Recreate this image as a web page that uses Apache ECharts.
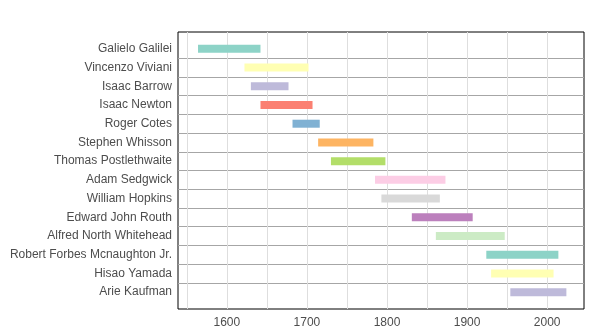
<!DOCTYPE html>
<html>
<head>
<meta charset="utf-8">
<script src="https://cdn.jsdelivr.net/npm/echarts@6/dist/echarts.min.js"></script>
<style>
html, body { margin: 0; padding: 0; background: #fff; }
#main { width: 592px; height: 336px; }
</style>
</head>
<body>
<div id="main"></div>
<script>
// 人名（从上到下）
var names = ['Galielo Galilei', 'Vincenzo Viviani', 'Isaac Barrow', 'Isaac Newton', 'Roger Cotes',
    'Stephen Whisson', 'Thomas Postlethwaite', 'Adam Sedgwick', 'William Hopkins', 'Edward John Routh',
    'Alfred North Whitehead', 'Robert Forbes Mcnaughton Jr.', 'Hisao Yamada', 'Arie Kaufman'];
// 起止年份
var startYears = [1564, 1622, 1630, 1642, 1682, 1714, 1730, 1785, 1793, 1831, 1861, 1924, 1930, 1954];
var endYears = [1642, 1702, 1677, 1707, 1716, 1783, 1798, 1873, 1866, 1907, 1947, 2014, 2008, 2024];
var barColors = ['#8DD3C7', '#FFFFB3', '#BEBADA', '#FB8072', '#80B1D3', '#FDB462', '#B3DE69',
    '#FCCDE5', '#D9D9D9', '#BC80BD', '#CCEBC5', '#8DD3C7', '#FFFFB3', '#BEBADA'];
// 刻度
var yearLabels = [1600, 1700, 1800, 1900, 2000];
var yearGrid = [1550, 1600, 1650, 1700, 1750, 1800, 1850, 1900, 1950, 2000];
var rowIndex = [0, 1, 2, 3, 4, 5, 6, 7, 8, 9, 10, 11, 12, 13];
var rowSeparators = [0.5, 1.5, 2.5, 3.5, 4.5, 5.5, 6.5, 7.5, 8.5, 9.5, 10.5, 11.5, 12.5];

var chart = echarts.init(document.getElementById('main'));

var seriesData = [];
for (var i = 0; i < names.length; i++) {
    seriesData.push({
        value: [rowIndex[i], startYears[i], endYears[i]],
        itemStyle: { color: barColors[i] }
    });
}

function renderBar(params, api) {
    var p0 = api.coord([api.value(1), api.value(0)]);
    var p1 = api.coord([api.value(2), api.value(0)]);
    var h = 8;
    return {
        type: 'rect',
        shape: { x: p0[0], y: p0[1] - h / 2, width: p1[0] - p0[0], height: h },
        style: { fill: api.visual('color') }
    };
}

var option = {
    animation: false,
    grid: {
        left: 178,
        right: 8,
        top: 32,
        bottom: 27,
        show: true,
        borderColor: '#000',
        borderWidth: 1
    },
    xAxis: {
        type: 'value',
        min: 1539,
        max: 2046,
        axisLine: { show: false },
        axisTick: { show: false, customValues: yearGrid },
        axisLabel: {
            customValues: yearLabels,
            formatter: function (v) { return String(v); },
            color: '#4d4d4d',
            fontFamily: 'Liberation Sans',
            fontSize: 12,
            margin: 8
        },
        splitLine: { show: true, lineStyle: { color: '#dedede', width: 1 } }
    },
    yAxis: {
        type: 'value',
        inverse: true,
        min: -0.9,
        max: 13.9,
        axisLine: { show: false },
        axisTick: { show: false, customValues: rowSeparators },
        axisLabel: {
            customValues: rowIndex,
            formatter: function (v) { return names[Math.round(v)]; },
            color: '#4d4d4d',
            fontFamily: 'Liberation Sans',
            fontSize: 12,
            margin: 6
        },
        splitLine: { show: true, lineStyle: { color: '#a6a6a6', width: 1 } }
    },
    series: [{
        type: 'custom',
        renderItem: renderBar,
        encode: { x: [1, 2], y: 0 },
        data: seriesData
    }]
};
chart.setOption(option);
</script>
</body>
</html>
